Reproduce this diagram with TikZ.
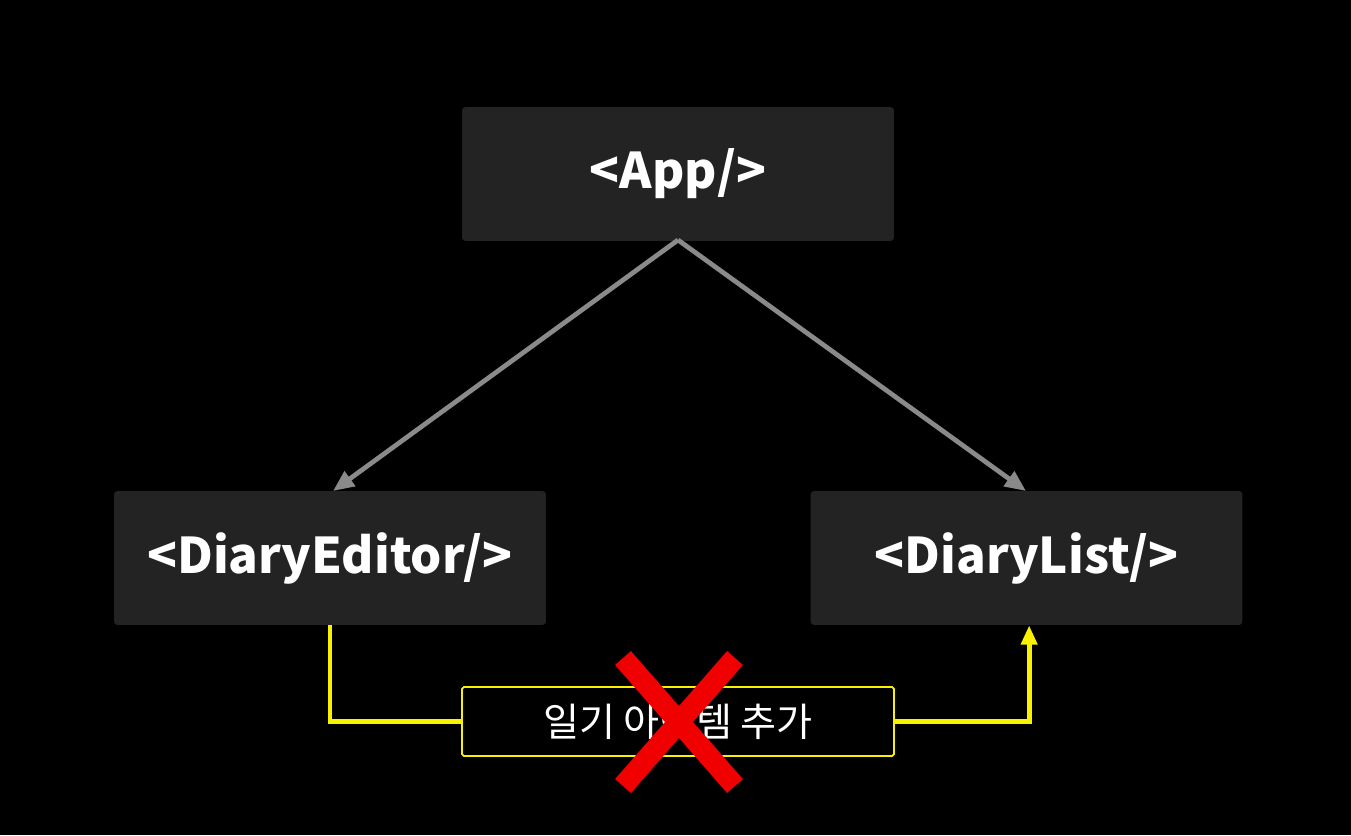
\documentclass[tikz,border=0pt]{standalone}
\usepackage{fontspec}
\setmainfont{Noto Sans CJK KR}
\usetikzlibrary{arrows.meta}

\definecolor{boxgray}{HTML}{232323}
\definecolor{linegray}{HTML}{8A8A8A}
\definecolor{hiyellow}{HTML}{F8F200}
\definecolor{xred}{HTML}{F00000}

\begin{document}
\begin{tikzpicture}[
    x=0.02cm, y=-0.02cm,
    comp/.style={rectangle, fill=boxgray, rounded corners=2pt, minimum width=8.64cm,
                 minimum height=2.68cm, inner sep=0pt, text=white,
                 font=\fontsize{28}{33}\selectfont\bfseries},
    msg/.style={rectangle, draw=hiyellow, fill=black, line width=1pt, rounded corners=1pt,
                minimum width=8.64cm, minimum height=1.38cm, inner sep=0pt, text=white,
                font=\fontsize{22.3}{26}\selectfont},
    ge/.style={draw=linegray, line width=2.7pt, -{Triangle[length=12pt, width=10pt]}},
    ye/.style={draw=hiyellow, line width=2.7pt},
    cross/.style={draw=xred, line width=12pt},
  ]
  \fill[black] (0,0) rectangle (1351,835);
  \useasboundingbox (0,0) rectangle (1351,835);
  \node[comp] (app) at (678, 174) {<App/>};
  \node[comp] (editor) at (330, 558) {<DiaryEditor/>};
  \node[comp] (list) at (1026.5, 558) {<DiaryList/>};
  \node[msg] (add) at (678, 721.5) {일기 아이템 추가};
  \coordinate (fork) at (678, 240);
  \draw[ge] (fork) -- (333, 491);
  \draw[ge] (fork) -- (1026, 491);
  \draw[ye] (editor.south) |- (add.west);
  \draw[ye, -{Triangle[length=11pt, width=9pt]}] (add.east) -| ([xshift=1.5]list.south);
  % red cross over the message
  \draw[cross] (623, 658) -- (735, 786);
  \draw[cross] (735, 658) -- (623, 786);
\end{tikzpicture}
\end{document}
